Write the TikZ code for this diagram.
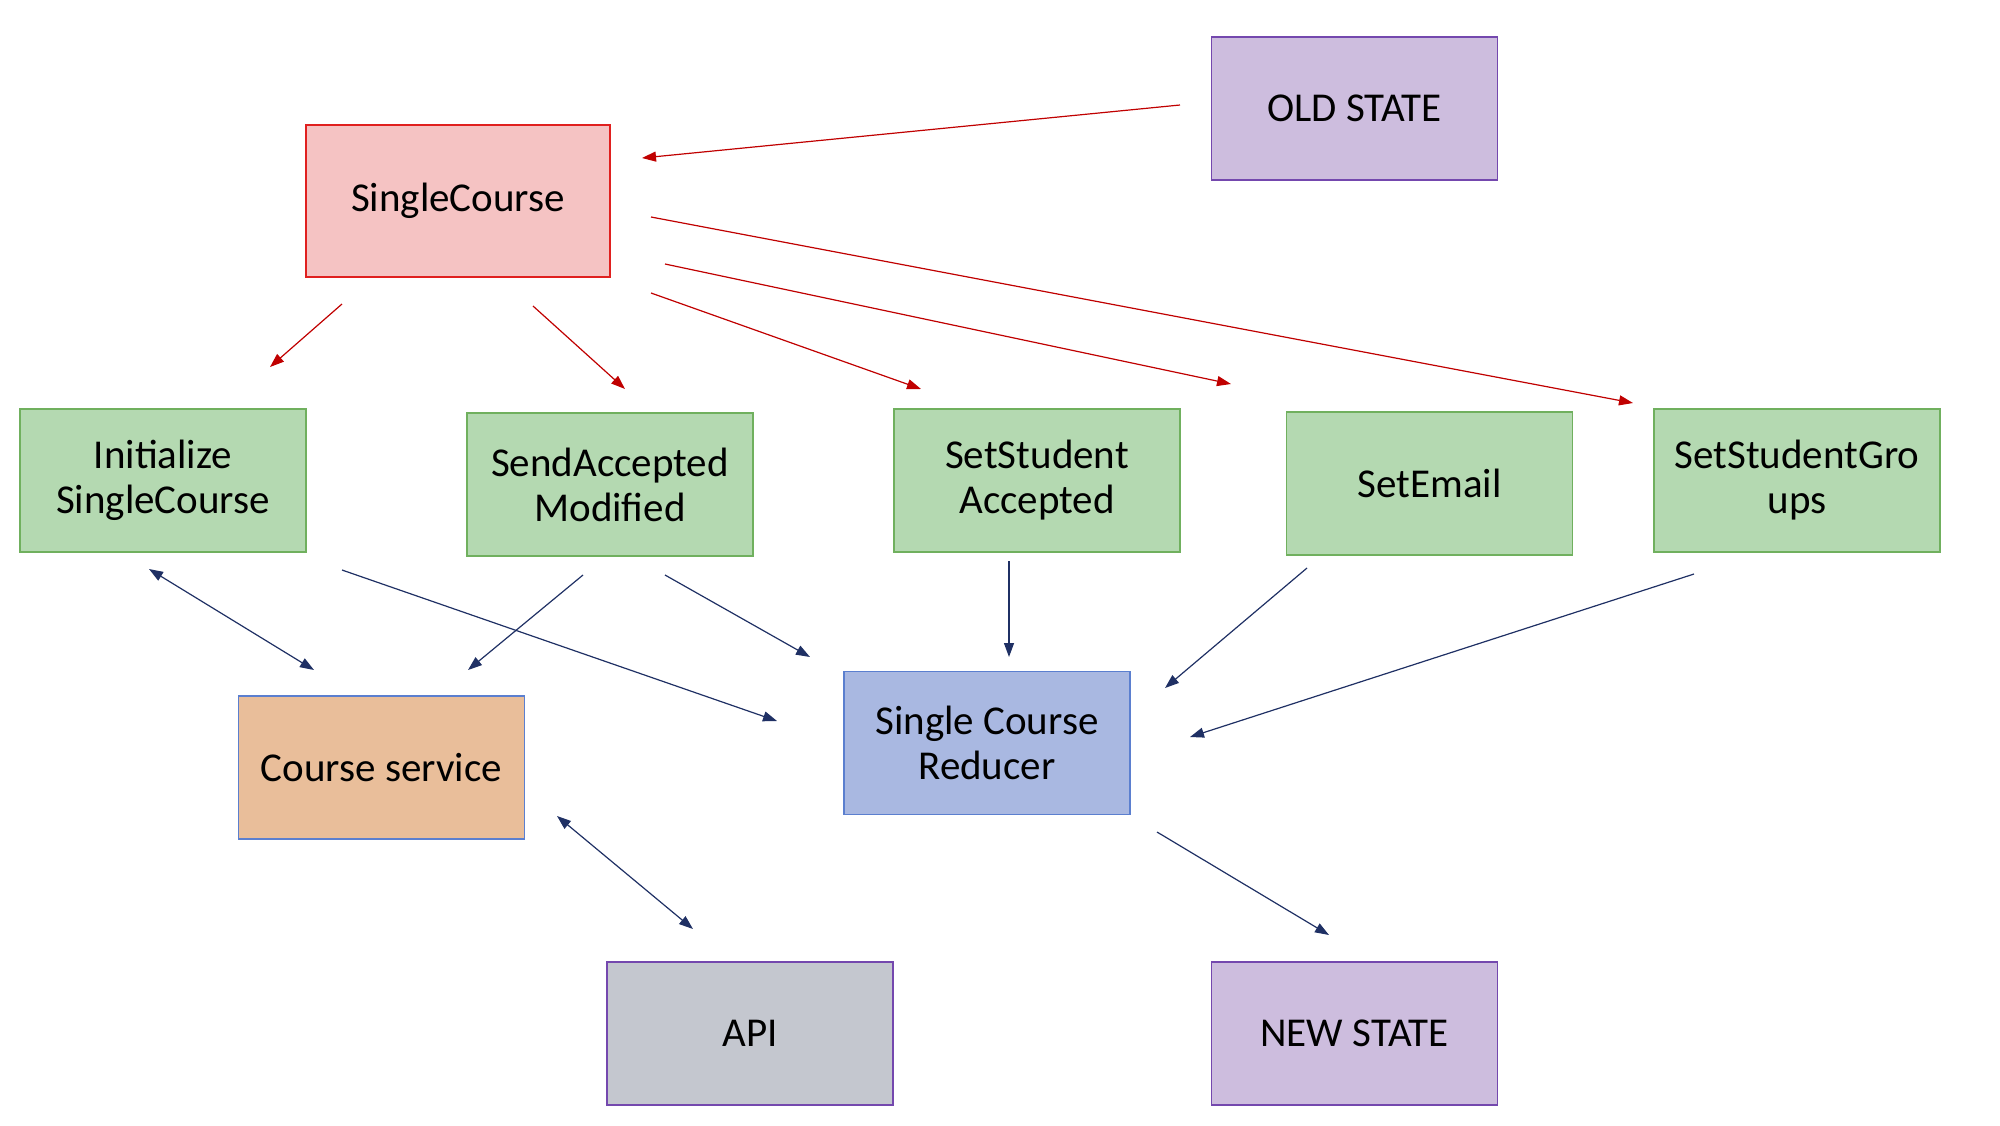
\documentclass[tikz,border=0pt]{standalone}
\usepackage{fontspec}
\setmainfont{Carlito}
\usetikzlibrary{arrows.meta}
\definecolor{scfill}{HTML}{F5C3C3}
\definecolor{scdraw}{HTML}{E0201F}
\definecolor{gfill}{HTML}{B4D9B1}
\definecolor{gdraw}{HTML}{70B05E}
\definecolor{pfill}{HTML}{CDBDDE}
\definecolor{pdraw}{HTML}{7448AE}
\definecolor{ofill}{HTML}{E9BE9A}
\definecolor{bdraw}{HTML}{5B7FCF}
\definecolor{bfill}{HTML}{A9B8E1}
\definecolor{afill}{HTML}{C4C7CF}
\definecolor{redarrow}{HTML}{C00000}
\definecolor{bluearrow}{HTML}{1F3064}
\tikzset{
  box/.style={draw, line width=0.8pt, minimum width=143pt, minimum height=71.5pt, inner sep=0pt, align=center, font=\fontsize{20.5}{22.5}\selectfont, text=black},
  greenbox/.style={box, fill=gfill, draw=gdraw},
  purplebox/.style={box, fill=pfill, draw=pdraw},
  redline/.style={draw=redarrow, line width=0.6pt, -{Triangle[length=7pt,width=5pt]}},
  blueline/.style={draw=bluearrow, line width=0.6pt, -{Triangle[length=7pt,width=5pt]}},
  bothline/.style={draw=bluearrow, line width=0.6pt, {Triangle[length=7pt,width=5pt]}-{Triangle[length=7pt,width=5pt]}},
}
\begin{document}
\begin{tikzpicture}[x=0.5pt,y=-0.5pt]
\useasboundingbox (0,0) rectangle (2000,1125);
% boxes
\node[purplebox] (old) at (1354.5,108.5) {OLD STATE};
\node[box, fill=scfill, draw=scdraw, minimum width=152pt, minimum height=76pt] (sc) at (458,201) {SingleCourse};
\node[greenbox] (init) at (163,480.5) {Initialize\\SingleCourse};
\node[greenbox] (send) at (610,484.5) {SendAccepted\\Modified};
\node[greenbox] (setacc) at (1037,480.5) {SetStudent\\Accepted};
\node[greenbox] (setemail) at (1429.5,483.5) {SetEmail};
\node[greenbox] (setgrp) at (1797,480.5) {SetStudentGro\\ups};
\node[box, fill=ofill, draw=bdraw] (cs) at (381.5,767.5) {Course service};
\node[box, fill=bfill, draw=bdraw] (red) at (987,743) {Single Course\\Reducer};
\node[box, fill=afill, draw=pdraw] (api) at (750,1033.5) {API};
\node[purplebox] (new) at (1354.5,1033.5) {NEW STATE};
% arrow end coordinates
\coordinate (oldS) at (1180,105);  \coordinate (scE0) at (642,158);
\coordinate (scA) at (342,304);  \coordinate (initN) at (270,367);
\coordinate (scB) at (533,306);  \coordinate (sendN) at (625,389);
\coordinate (scC) at (651,293);  \coordinate (setaccN) at (921,389);
\coordinate (scD) at (665,264);  \coordinate (setemailN) at (1231,384);
\coordinate (scF) at (651,217);  \coordinate (setgrpN) at (1633,403);
\coordinate (initS1) at (149,569); \coordinate (csN1) at (314,670);
\coordinate (initS2) at (342,570); \coordinate (redW1) at (777,721);
\coordinate (sendS1) at (583,575); \coordinate (csN2) at (468,670);
\coordinate (sendS2) at (665,575); \coordinate (redW2) at (810,657);
\coordinate (setaccS) at (1009,561); \coordinate (redN) at (1009,657);
\coordinate (setemailS) at (1307,568); \coordinate (redE1) at (1165,688);
\coordinate (setgrpS) at (1694,574); \coordinate (redE2) at (1190,737);
\coordinate (csS) at (557,816); \coordinate (apiN) at (693,929);
\coordinate (redS) at (1157,832); \coordinate (newN) at (1329,935);
% red arrows
\draw[redline] (oldS) -- (scE0);
\draw[redline] (scA) -- (initN);
\draw[redline] (scB) -- (sendN);
\draw[redline] (scC) -- (setaccN);
\draw[redline] (scD) -- (setemailN);
\draw[redline] (scF) -- (setgrpN);
% blue arrows
\draw[bothline] (initS1) -- (csN1);
\draw[blueline] (initS2) -- (redW1);
\draw[blueline] (sendS1) -- (csN2);
\draw[blueline] (sendS2) -- (redW2);
\draw[blueline] (setaccS) -- (redN);
\draw[blueline] (setemailS) -- (redE1);
\draw[blueline] (setgrpS) -- (redE2);
\draw[bothline] (csS) -- (apiN);
\draw[blueline] (redS) -- (newN);
\end{tikzpicture}
\end{document}
